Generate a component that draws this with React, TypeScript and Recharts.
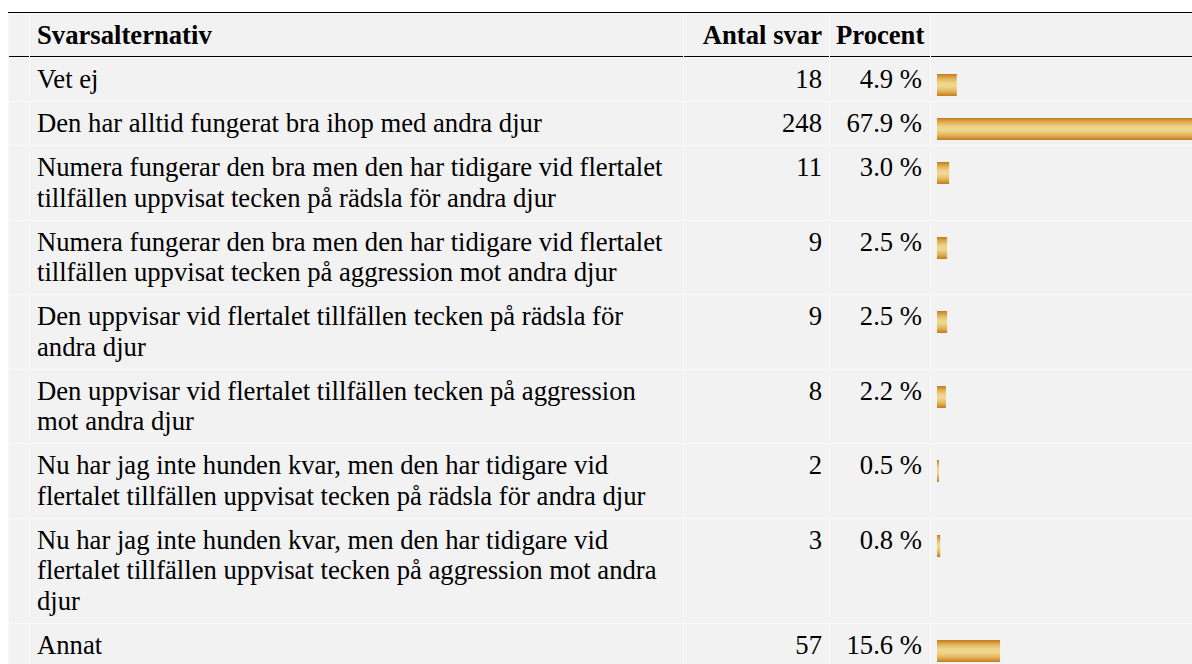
import { BarChart, Bar, XAxis, YAxis } from 'recharts';

// survey answers (Svarsalternativ), line breaks as in the source table
const answers = [
  'Vet ej',
  'Den har alltid fungerat bra ihop med andra djur',
  'Numera fungerar den bra men den har tidigare vid flertalet\ntillfällen uppvisat tecken på rädsla för andra djur',
  'Numera fungerar den bra men den har tidigare vid flertalet\ntillfällen uppvisat tecken på aggression mot andra djur',
  'Den uppvisar vid flertalet tillfällen tecken på rädsla för\nandra djur',
  'Den uppvisar vid flertalet tillfällen tecken på aggression\nmot andra djur',
  'Nu har jag inte hunden kvar, men den har tidigare vid\nflertalet tillfällen uppvisat tecken på rädsla för andra djur',
  'Nu har jag inte hunden kvar, men den har tidigare vid\nflertalet tillfällen uppvisat tecken på aggression mot andra\ndjur',
  'Annat',
];
const counts = [18, 248, 11, 9, 9, 8, 2, 3, 57];
const percents = [4.9, 67.9, 3.0, 2.5, 2.5, 2.2, 0.5, 0.8, 15.6];

const headers = ['Svarsalternativ', 'Antal svar', 'Procent'];

const BAR_W = 404;
const BAR_H = 22;

const bands: [number, string][] = [
  [0, '#c27c1a'],
  [0.1, '#d3953a'],
  [0.2, '#e0b056'],
  [0.32, '#e9c574'],
  [0.42, '#eed58c'],
  [0.58, '#eed58c'],
  [0.68, '#e9c574'],
  [0.8, '#e0b056'],
  [0.9, '#d3953a'],
  [1, '#c27c1a'],
];

function RowBar({ pct, idx }: { pct: number; idx: number }) {
  const id = `gold-${idx}`;
  return (
    <div style={{ width: BAR_W, height: BAR_H }}>
      <BarChart
        width={BAR_W}
        height={BAR_H}
        data={[{ name: String(idx), pct }]}
        layout="vertical"
        margin={{ top: 0, right: 0, bottom: 0, left: 0 }}
        barCategoryGap={0}
      >
        <defs>
          <linearGradient id={id} x1="0" y1="0" x2="0" y2="1">
            {bands.map(([o, c], i) => (
              <stop key={i} offset={o} stopColor={c} />
            ))}
          </linearGradient>
        </defs>
        <XAxis type="number" domain={[0, 100]} hide />
        <YAxis type="category" dataKey="name" hide />
        <Bar dataKey="pct" fill={`url(#${id})`} isAnimationActive={false} />
      </BarChart>
    </div>
  );
}

const cell: React.CSSProperties = {
  background: '#f2f2f2',
  padding: '6px 7px 6.5px 7px',
  verticalAlign: 'top',
  lineHeight: '30.5px',
  whiteSpace: 'pre',
  fontFamily: "'Liberation Serif', 'DejaVu Serif'",
  fontSize: '26.67px',
};

const head: React.CSSProperties = {
  ...cell,
  fontWeight: 'bold',
  borderBottom: '1px solid #000',
  padding: '6px 7px 5.5px 7px',
};

export default function App() {
  return (
    <div
      style={{
        position: 'absolute',
        left: 0,
        top: 0,
        width: 1192,
        height: 664,
        overflow: 'hidden',
        background: '#fff',
        fontFamily: "'Liberation Serif', 'DejaVu Serif'",
        fontSize: '26.67px',
        color: '#000',
      }}
    >
      <div style={{ position: 'absolute', left: 8, top: 12, width: 1200, borderTop: '1px solid #000' }} />
      <table
        style={{
          position: 'absolute',
          left: 8,
          top: 13,
          borderCollapse: 'separate',
          borderSpacing: 1,
          background: '#f9f9f9',
          tableLayout: 'fixed',
          width: 20 + 653 + 145 + 100 + 430 + 6,
        }}
      >
        <colgroup>
          <col style={{ width: 20 }} />
          <col style={{ width: 653 }} />
          <col style={{ width: 145 }} />
          <col style={{ width: 100 }} />
          <col style={{ width: 430 }} />
        </colgroup>
        <thead>
          <tr>
            <th style={head} />
            <th style={{ ...head, textAlign: 'left' }}>{headers[0]}</th>
            <th style={{ ...head, textAlign: 'right' }}>{headers[1]}</th>
            <th style={{ ...head, textAlign: 'left', paddingLeft: 6 }}>{headers[2]}</th>
            <th style={head} />
          </tr>
        </thead>
        <tbody>
          {answers.map((a, i) => (
            <tr key={i}>
              <td style={cell} />
              <td style={cell}>{a}</td>
              <td style={{ ...cell, textAlign: 'right' }}>{counts[i]}</td>
              <td style={{ ...cell, textAlign: 'right', paddingRight: 8 }}>
                {percents[i].toFixed(1)} %
              </td>
              <td style={{ ...cell, padding: '16px 0 0 6px' }}>
                <RowBar pct={percents[i]} idx={i} />
              </td>
            </tr>
          ))}
        </tbody>
      </table>
    </div>
  );
}
